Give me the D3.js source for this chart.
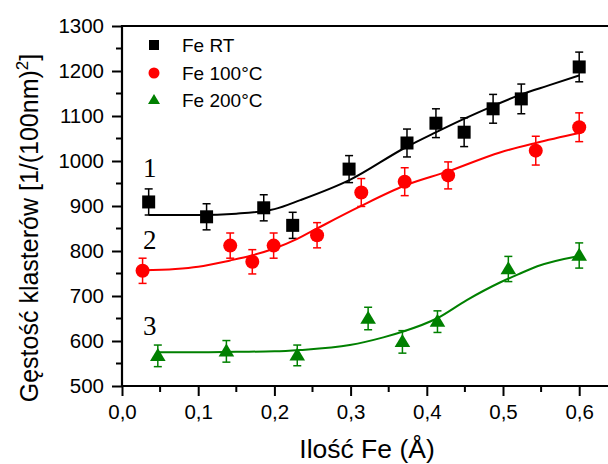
<!DOCTYPE html>
<html>
<head>
<meta charset="utf-8">
<script src="https://cdn.jsdelivr.net/npm/d3@7/dist/d3.min.js"></script>
<style>
  html, body { margin: 0; padding: 0; background: #fff; }
  svg { display: block; }
  text { font-family: "Liberation Sans", Arial, sans-serif; }
  text.serif { font-family: "Liberation Serif", "Times New Roman", serif; }
</style>
</head>
<body>
<svg id="chart" width="608" height="464"></svg>
<script>
// ---- data ----
const seriesNames = ["Fe RT", "Fe 100°C", "Fe 200°C"];
const seriesColors = ["#000000", "#ff0000", "#008000"];
const seriesLabels = ["1", "2", "3"];

const rtX   = [0.035, 0.111, 0.186, 0.224, 0.298, 0.374, 0.412, 0.449, 0.487, 0.524, 0.600];
const rtY   = [909, 876, 896, 857, 982, 1040, 1084, 1064, 1116, 1138, 1209];
const rtErr = [29, 29, 29, 29, 30, 31, 32, 32, 32, 33, 33];

const t100X   = [0.027, 0.142, 0.171, 0.199, 0.256, 0.314, 0.371, 0.428, 0.543, 0.600];
const t100Y   = [756, 812, 776, 812, 835, 930, 954, 968, 1023, 1075];
const t100Err = [28, 28, 27, 28, 28, 31, 31, 30, 32, 32];

const t200X   = [0.047, 0.137, 0.230, 0.323, 0.368, 0.414, 0.507, 0.600];
const t200Y   = [567, 577, 568, 650, 598, 643, 760, 790];
const t200Err = [24, 24, 23, 25, 25, 24, 28, 28];

// fitted curves
const rtFitX = [0.035, 0.10, 0.15, 0.20, 0.234, 0.299, 0.372, 0.411, 0.448, 0.485, 0.524, 0.56, 0.60];
const rtFitY = [880, 880, 883, 893, 913, 958, 1030, 1063, 1093, 1121, 1148, 1168, 1190];
const t100FitX = [0.027, 0.07, 0.10, 0.142, 0.17, 0.199, 0.23, 0.256, 0.3125, 0.372, 0.428, 0.496, 0.543, 0.60];
const t100FitY = [757, 760, 765, 779, 790, 805, 827, 850, 899, 946, 977, 1019, 1040, 1062];
const t200FitX = [0.047, 0.10, 0.15, 0.20, 0.234, 0.299, 0.343, 0.369, 0.413, 0.4525, 0.496, 0.5225, 0.545, 0.60];
const t200FitY = [575, 575, 576, 577, 580, 591, 608, 621, 650, 691, 730, 750, 766, 789];

const xTicks = [0.0, 0.1, 0.2, 0.3, 0.4, 0.5, 0.6];
const xMinorTicks = [0.05, 0.15, 0.25, 0.35, 0.45, 0.55, 0.65];
const yTicks = [500, 600, 700, 800, 900, 1000, 1100, 1200, 1300];
const yMinorTicks = [550, 650, 750, 850, 950, 1050, 1150, 1250];

const series = [
  {x: rtX, y: rtY, e: rtErr, fx: rtFitX, fy: rtFitY, shape: "square"},
  {x: t100X, y: t100Y, e: t100Err, fx: t100FitX, fy: t100FitY, shape: "circle"},
  {x: t200X, y: t200Y, e: t200Err, fx: t200FitX, fy: t200FitY, shape: "triangle"}
];

// ---- layout ----
const svg = d3.select("#chart");
const plotLeft = 122, plotTop = 26, plotBottom = 386;
const x = d3.scaleLinear().domain([0, 0.6]).range([plotLeft, 579.2]);
const y = d3.scaleLinear().domain([500, 1300]).range([plotBottom, plotTop]);
const xMax = 0.66;

const fmt = d => d3.format(".1f")(d).replace(".", ",");

// top frame line
svg.append("line")
  .attr("x1", plotLeft).attr("x2", x(xMax)).attr("y1", plotTop).attr("y2", plotTop)
  .attr("stroke", "#000").attr("stroke-width", 2.2);

// x axis
const xAxisG = svg.append("g").attr("transform", `translate(0,${plotBottom})`);
xAxisG.call(d3.axisBottom(x).tickValues(xTicks).tickFormat(fmt).tickSize(10).tickPadding(8))
  .call(g => g.select(".domain").remove())
  .call(g => g.selectAll(".tick line").attr("stroke-width", 2))
  .call(g => g.selectAll(".tick text").style("font-size", "20.5px").attr("fill", "#000"));
xAxisG.append("line").attr("x1", plotLeft - 1).attr("x2", x(xMax)).attr("y1", 0).attr("y2", 0)
  .attr("stroke", "#000").attr("stroke-width", 2.2);
xAxisG.selectAll(".minor").data(xMinorTicks).join("line").attr("class", "minor")
  .attr("x1", d => x(d)).attr("x2", d => x(d)).attr("y1", 0).attr("y2", 6)
  .attr("stroke", "#000").attr("stroke-width", 2);

// y axis
const yAxisG = svg.append("g").attr("transform", `translate(${plotLeft},0)`);
yAxisG.call(d3.axisLeft(y).tickValues(yTicks).tickFormat(d3.format("d")).tickSize(10).tickPadding(8))
  .call(g => g.select(".domain").remove())
  .call(g => g.selectAll(".tick line").attr("stroke-width", 2))
  .call(g => g.selectAll(".tick text").style("font-size", "20.5px").attr("fill", "#000"));
yAxisG.append("line").attr("x1", 0).attr("x2", 0).attr("y1", plotTop - 1).attr("y2", plotBottom + 1)
  .attr("stroke", "#000").attr("stroke-width", 2.2);
yAxisG.selectAll(".minor").data(yMinorTicks).join("line").attr("class", "minor")
  .attr("x1", -6).attr("x2", 0).attr("y1", d => y(d)).attr("y2", d => y(d))
  .attr("stroke", "#000").attr("stroke-width", 2);

// axis titles
svg.append("text")
  .attr("x", 367).attr("y", 458).attr("text-anchor", "middle")
  .style("font-size", "26.5px").attr("fill", "#000")
  .text("Ilość Fe (Å)");

const yt = svg.append("text")
  .attr("transform", "translate(38,228) rotate(-90)")
  .attr("text-anchor", "middle").style("font-size", "25px").attr("fill", "#000");
yt.append("tspan").text("Gęstość klasterów [1/(100nm)");
yt.append("tspan").style("font-size", "17px").attr("dy", -10).text("2");
yt.append("tspan").attr("dy", 10).text("]");

// ---- marks ----
const line = d3.line().x(d => x(d[0])).y(d => y(d[1])).curve(d3.curveMonotoneX);

function drawMarker(g, shape, cx, cy, color, s) {
  if (shape === "square") {
    g.append("rect").attr("x", cx - s / 2).attr("y", cy - s / 2).attr("width", s).attr("height", s)
      .attr("fill", color);
  } else if (shape === "circle") {
    g.append("circle").attr("cx", cx).attr("cy", cy).attr("r", s / 2 + 0.5).attr("fill", color);
  } else {
    const h = s * 1.0, w = s * 1.2;
    g.append("path")
      .attr("d", `M${cx},${cy - h * 0.6}L${cx + w / 2},${cy + h * 0.4}L${cx - w / 2},${cy + h * 0.4}Z`)
      .attr("fill", color);
  }
}

series.forEach((s, i) => {
  const color = seriesColors[i];
  const g = svg.append("g");
  g.append("path")
    .datum(s.fx.map((v, k) => [v, s.fy[k]]))
    .attr("d", line).attr("fill", "none").attr("stroke", color).attr("stroke-width", 2);
  s.x.forEach((xv, k) => {
    const cx = x(xv), y1 = y(s.y[k] + s.e[k]), y2 = y(s.y[k] - s.e[k]);
    g.append("line").attr("x1", cx).attr("x2", cx).attr("y1", y1).attr("y2", y2)
      .attr("stroke", color).attr("stroke-width", 1.5);
    [y1, y2].forEach(yy => g.append("line").attr("x1", cx - 4).attr("x2", cx + 4)
      .attr("y1", yy).attr("y2", yy).attr("stroke", color).attr("stroke-width", 1.5));
  });
  s.x.forEach((xv, k) => drawMarker(g, s.shape, x(xv), y(s.y[k]), color, 13));
});

// curve number labels
const labelPos = [[143, 177], [143, 249], [143, 335]];
seriesLabels.forEach((t, i) => {
  svg.append("text").attr("class", "serif")
    .attr("x", labelPos[i][0]).attr("y", labelPos[i][1])
    .style("font-size", "27px").attr("fill", "#000").text(t);
});

// legend
const legY = [45, 73, 100];
seriesNames.forEach((n, i) => {
  const g = svg.append("g");
  drawMarker(g, series[i].shape, 154, legY[i], seriesColors[i], 10);
  g.append("text").attr("x", 182).attr("y", legY[i] + 7)
    .style("font-size", "19px").attr("fill", "#000").text(n);
});
</script>
</body>
</html>
